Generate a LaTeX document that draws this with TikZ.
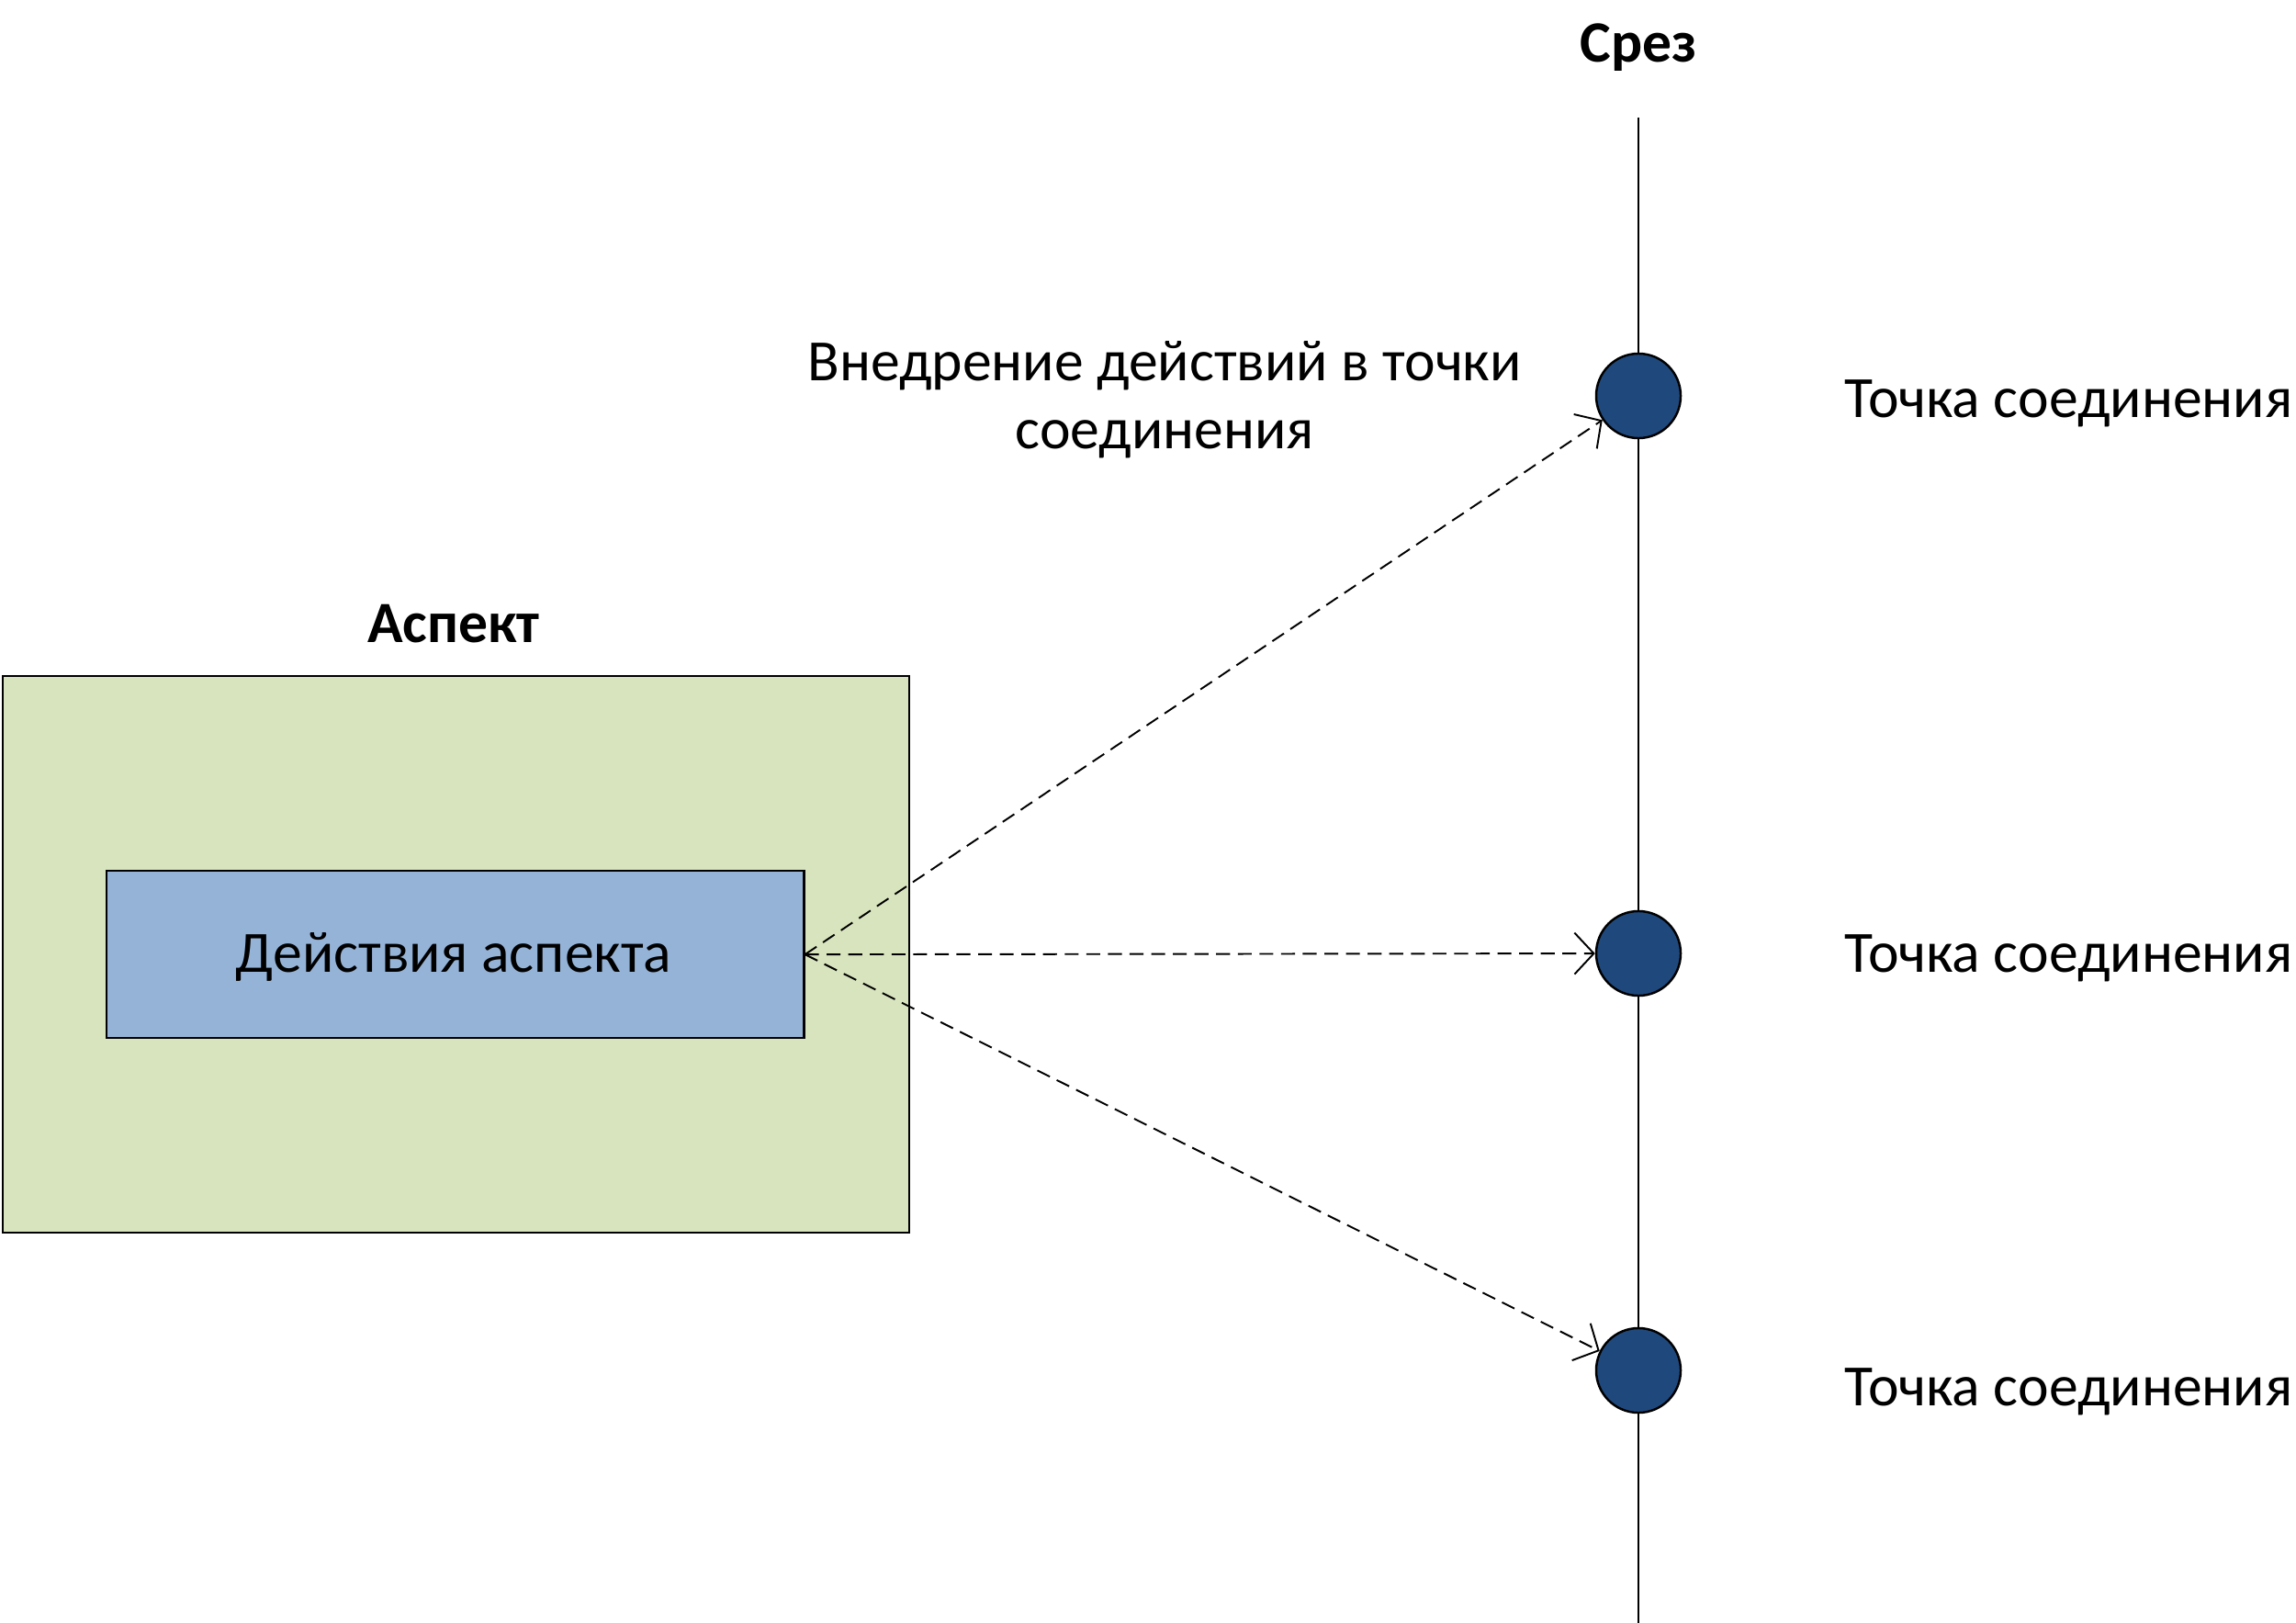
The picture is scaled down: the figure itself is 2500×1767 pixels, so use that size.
\documentclass[tikz,border=0pt]{standalone}
\usepackage{fontspec}
\setmainfont{Carlito}
\usetikzlibrary{arrows.meta}
\definecolor{aspgreen}{HTML}{D7E4BD}
\definecolor{actblue}{HTML}{95B3D7}
\definecolor{jpblue}{HTML}{1F497D}
\tikzset{
  lbl/.style={font=\fontsize{18.1}{21}\selectfont, inner sep=0pt},
  blbl/.style={lbl, font=\fontsize{18.1}{21}\selectfont\bfseries},
  jp/.style={circle, draw=black, line width=0.7pt, fill=jpblue, minimum size=0.92cm, inner sep=0pt},
  inject/.style={dashed, dash pattern=on 4.3pt off 2.4pt, line width=0.55pt, -{Straight Barb[length=0.21cm, width=0.45cm, line width=0.55pt]}}
}
\begin{document}
\begin{tikzpicture}[x=0.01cm, y=-0.01cm]
\useasboundingbox (0,0) rectangle (2500,1767);
% aspect box
\node[draw=black, line width=0.6pt, fill=aspgreen, minimum width=9.86cm, minimum height=6.06cm, anchor=north west, inner sep=0pt] (aspect) at (2,735) {};
\node[blbl] (aspectlbl) at (494,679) {Аспект};
\node[draw=black, line width=0.6pt, fill=actblue, minimum width=7.59cm, minimum height=1.82cm, anchor=north west, inner sep=0pt, lbl] (act) at (115,947) {};
\node[lbl] (acttxt) at (494,1042) {Действия аспекта};
% cut line
\coordinate (ctop) at (1784,128);
\coordinate (cbot) at (1784,1767);
\draw[line width=0.6pt] (ctop) -- (cbot);
\node[blbl] (cutlbl) at (1784,52) {Срез};
% join points
\node[jp] (j1) at (1784,431) {};
\node[jp] (j2) at (1784,1038) {};
\node[jp] (j3) at (1784,1492) {};
\node[lbl, anchor=west] (t1) at (2008,439) {Точка соединения};
\node[lbl, anchor=west] (t2) at (2008,1043) {Точка соединения};
\node[lbl, anchor=west] (t3) at (2008,1515) {Точка соединения};
\node[lbl, align=center] (inj) at (1268,435) {Внедрение действий в точки\\соединения};
% connectors
\draw[inject] (act.east) -- (j1);
\draw[inject] (act.east) -- (j2);
\draw[inject] (act.east) -- (j3);
\end{tikzpicture}
\end{document}
